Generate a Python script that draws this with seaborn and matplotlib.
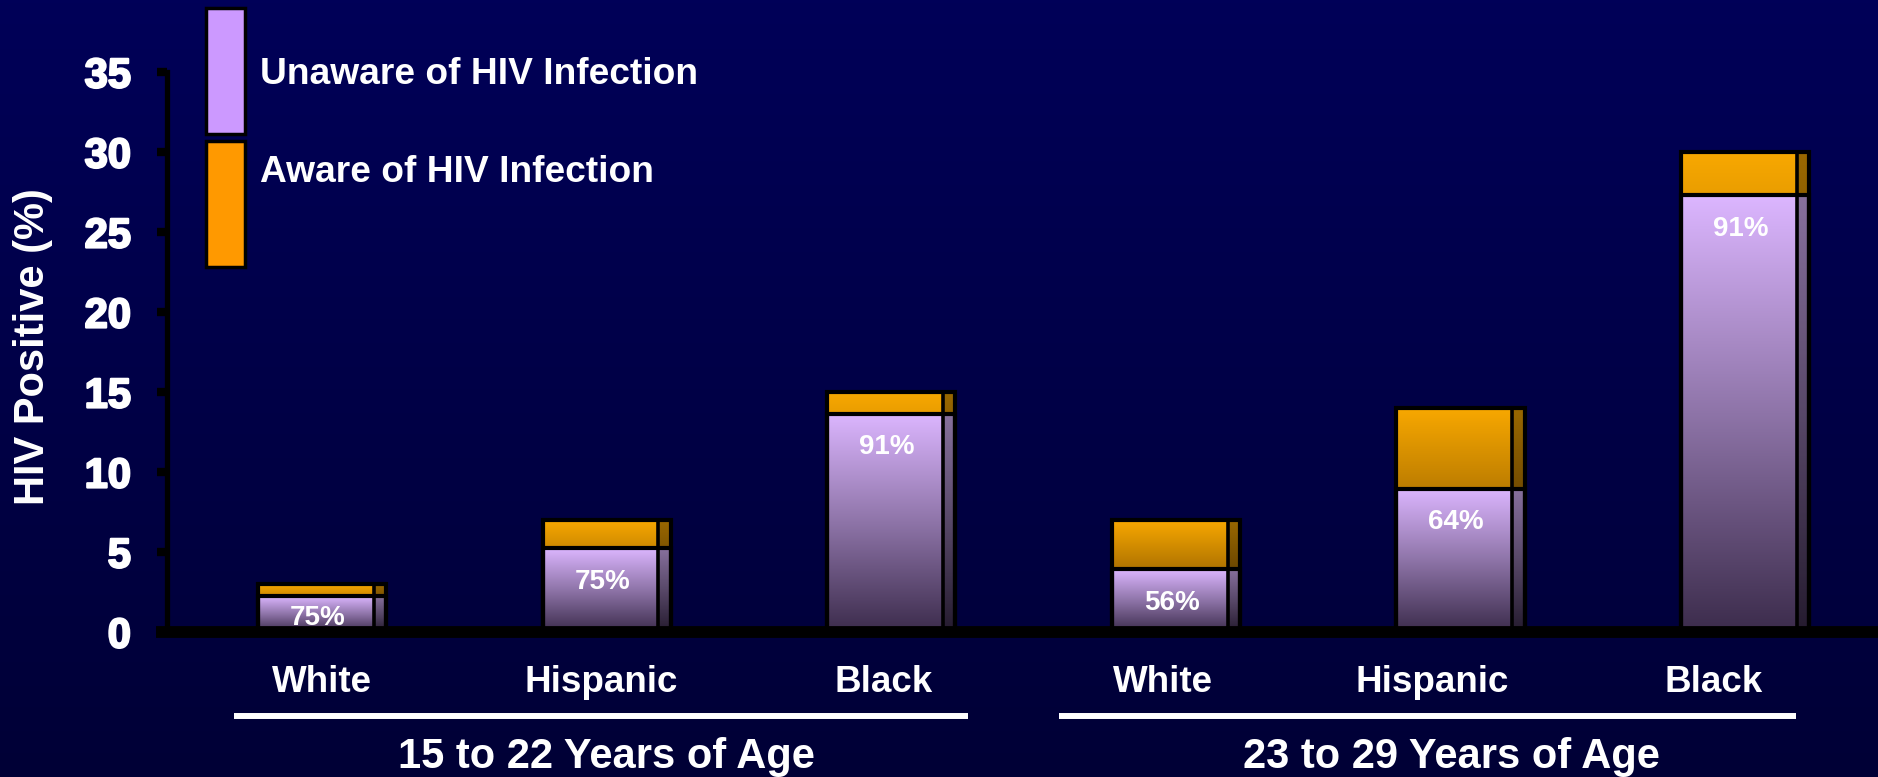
import numpy as np
import pandas as pd
import matplotlib
matplotlib.use("Agg")
import matplotlib.pyplot as plt
import matplotlib.transforms as mtransforms
import matplotlib.patheffects as pe
from matplotlib.colors import LinearSegmentedColormap
from matplotlib.patches import Rectangle
import seaborn as sns

# ---- data -------------------------------------------------------------
age_groups = ["15 to 22 Years of Age", "23 to 29 Years of Age"]
races = ["White", "Hispanic", "Black"]
hiv_positive_pct = [3, 7, 15, 7, 14, 30]        # total HIV positive (%)
unaware_share_pct = [75, 75, 91, 56, 64, 91]    # share unaware of infection (%)

legend_labels = ["Unaware of HIV Infection", "Aware of HIV Infection"]
y_ticks = [0, 5, 10, 15, 20, 25, 30, 35]

slots = [f"{a}|{r}" for a in age_groups for r in races]
df = pd.DataFrame({
    "slot": slots,
    "total": hiv_positive_pct,
    "share": unaware_share_pct,
})
df["unaware"] = df["total"] * df["share"] / 100.0

# ---- styling ----------------------------------------------------------
sns.set_theme(style="white")
plt.rcParams["font.family"] = ["Liberation Sans", "DejaVu Sans"]
plt.rcParams["font.weight"] = "bold"

W, H, DPI = 1878, 777, 100
PURPLE = "#cc99ff"
ORANGE = "#ff9900"
purple_grad = LinearSegmentedColormap.from_list("pg", ["#3c2c4c", "#8e74a8", "#dcb6ff"])
orange_grad = LinearSegmentedColormap.from_list("og", ["#4a2e00", "#a56c00", "#f8a800"])
bg_grad = LinearSegmentedColormap.from_list("bg", ["#000036", "#000058"])
ramp = np.linspace(0, 1, 256).reshape(-1, 1)

fig = plt.figure(figsize=(W / DPI, H / DPI), dpi=DPI)

# navy backdrop, slightly lighter toward the top
bg = fig.add_axes([0, 0, 1, 1])
bg.set_zorder(-10)
bg.imshow(ramp, aspect="auto", cmap=bg_grad, origin="lower", extent=[0, 1, 0, 1])
bg.set_xlim(0, 1)
bg.set_ylim(0, 1)
bg.axis("off")

ax = fig.add_axes([167 / W, (H - 632) / H, 1 - 167 / W, (632 - 72) / H])
ax.set_facecolor("none")

bar_kw = dict(order=slots, saturation=1, width=0.45, edgecolor="black",
              linewidth=3, errorbar=None, ax=ax)
sns.barplot(data=df, x="slot", y="total", color=ORANGE, **bar_kw)
sns.barplot(data=df, x="slot", y="unaware", color=PURPLE, **bar_kw)

patches = list(ax.patches)
aware_bars, unaware_bars = patches[:6], patches[6:12]

# shaded fills clipped to each bar
for bars, cmap, z_img, z_edge in ((aware_bars, orange_grad, 1.0, 3.0),
                                  (unaware_bars, purple_grad, 1.5, 3.5)):
    for p in bars:
        x0, y0, w, h = p.get_x(), p.get_y(), p.get_width(), p.get_height()
        im = ax.imshow(ramp, extent=[x0, x0 + w, y0, y0 + h], origin="lower",
                       aspect="auto", cmap=cmap, zorder=z_img)
        im.set_clip_path(p)
        p.set_facecolor("none")
        p.set_zorder(z_edge)

# narrow darker side face on the right of each column
for p in aware_bars:
    x0, w, h = p.get_x(), p.get_width(), p.get_height()
    ax.add_patch(Rectangle((x0 + 0.905 * w, 0), 0.095 * w, h,
                           facecolor="black", alpha=0.38, lw=0, zorder=2))
    ax.vlines(x0 + 0.905 * w, 0, h, color="black", lw=2.6, zorder=4)

# share-unaware labels inside the purple segments
for p, u, s in zip(unaware_bars, df["unaware"], df["share"]):
    cx = p.get_x() + p.get_width() / 2 - 0.015
    ax.text(cx, max(u - 2.1, 0.9), f"{s}%", ha="center", va="center",
            color="white", fontsize=20, fontweight="bold", zorder=7)

# axes
ax.set_ylim(0, 35)
xlim = (-0.5446, 5.467)
ax.set_xlim(*xlim)
for side in ("top", "right", "bottom"):
    ax.spines[side].set_visible(False)
ax.spines["left"].set_color("black")
ax.spines["left"].set_linewidth(3.8)
ax.spines["left"].set_zorder(10)
ax.plot([xlim[0] - 0.04, xlim[1]], [0, 0], color="black", lw=8.5,
        clip_on=False, zorder=10, solid_capstyle="butt")

ax.set_yticks(y_ticks)
ax.set_yticklabels([str(t) for t in y_ticks])
ax.tick_params(axis="y", direction="out", length=7, width=6, color="black",
               pad=19, labelsize=30, labelcolor="white", left=True)

positions = np.arange(len(slots))
label_shift = np.array([0.0, -0.02, -0.025, -0.045, -0.1, -0.11])
ax.set_xticks(positions + label_shift)
ax.set_xticklabels(races * len(age_groups))
ax.tick_params(axis="x", length=0, pad=24, labelsize=26.5, labelcolor="white")
for lab in ax.get_xticklabels() + ax.get_yticklabels():
    lab.set_fontweight("bold")
for lab in ax.get_yticklabels():
    lab.set_path_effects([pe.withStroke(linewidth=1.6, foreground="white")])
ax.set_xlabel("")
ax.set_ylabel("")

# age-group brackets and captions
trans = mtransforms.blended_transform_factory(ax.transData, ax.transAxes)
pad_left = [0.31, 0.41]
pad_right = [0.27, 0.18]
for g, name in enumerate(age_groups):
    first, last = 3 * g, 3 * g + 2
    ax.plot([first - pad_left[g], last + pad_right[g]], [-0.15, -0.15],
            transform=trans, color="white", lw=4.3, clip_on=False,
            solid_capstyle="butt")
    ax.text((first + last) / 2 - 0.03 * g, -0.223, name, transform=trans,
            ha="center", va="center", fontsize=30, color="white",
            fontweight="bold")

fig.text(33 / W, 1 - 347 / H, "HIV Positive (%)", rotation=90, ha="center",
         va="center", fontsize=30, color="white", fontweight="bold")

# legend swatches
for (top, bottom), color, label, ty in (((8, 134), PURPLE, legend_labels[0], 74),
                                        ((141, 267), ORANGE, legend_labels[1], 173)):
    fig.add_artist(Rectangle((206 / W, 1 - bottom / H), 39 / W, (bottom - top) / H,
                             transform=fig.transFigure, facecolor=color,
                             edgecolor="black", lw=2.5))
    fig.text(260 / W, 1 - ty / H, label, ha="left", va="center", fontsize=26.7,
             color="white", fontweight="bold")

fig.savefig("out.png", dpi=DPI)
